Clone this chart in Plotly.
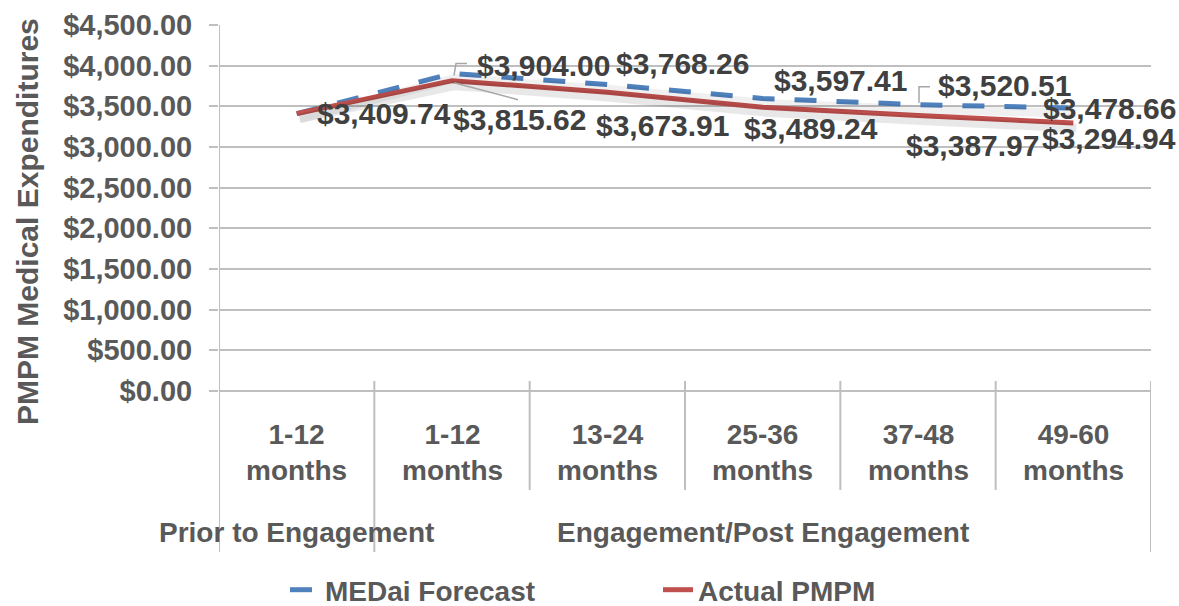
import plotly.graph_objects as go

# ---- data ----
periods = ["1-12<br>months", "1-12<br>months", "13-24<br>months",
           "25-36<br>months", "37-48<br>months", "49-60<br>months"]
groups = ["Prior to Engagement", "Engagement/Post Engagement"]
group_sizes = [1, 5]
forecast = [3409.74, 3904.00, 3768.26, 3597.41, 3520.51, 3478.66]
actual = [3409.74, 3815.62, 3673.91, 3489.24, 3387.97, 3294.94]
series_names = ["MEDai Forecast", "Actual PMPM"]

# ---- styling / layout constants ----
W, H = 1179, 606
ML, MR, MT, MB = 219, 28, 25, 215
PW, PH = W - ML - MR, H - MT - MB
YMAX = 4500
BLUE = "#4F81BD"
RED = "#C0504D"
GRID = "#BFBFBF"
AXTXT = "#595959"
LBL = "#404040"
FONT = "Liberation Sans, Arial, sans-serif"

xs = list(range(len(periods)))

def py2paper(py):
    return (MT + PH - py) / PH

fig = go.Figure()

# soft shadows (Excel style), drawn on shifted overlay axes
for vals, col in [(forecast, "rgba(0,0,0,0.06)"), (actual, "rgba(0,0,0,0.09)")]:
    fig.add_trace(go.Scatter(x=xs, y=vals, mode="lines", xaxis="x2", yaxis="y2",
                             line=dict(color=col, width=9), showlegend=False,
                             hoverinfo="skip"))

fig.add_trace(go.Scatter(x=xs, y=forecast, mode="lines", name=series_names[0],
                         line=dict(color=BLUE, width=5, dash="22px,20px")))
fig.add_trace(go.Scatter(x=xs, y=actual, mode="lines", name=series_names[1],
                         line=dict(color=RED, width=5)))

# ---- data labels (pixel offsets from each point) ----
f_off = [None, (91, 8), (75, 21), (78, 18), (86, 19), (36, 0)]
a_off = [(87, 0), (67, -39), (55, -33), (48, -21), (54, -30), (36, -15)]
for i, v in enumerate(forecast):
    if f_off[i] is None:
        continue
    fig.add_annotation(x=i, y=v, xref="x", yref="y", text=f"${v:,.2f}",
                       showarrow=False, xshift=f_off[i][0], yshift=f_off[i][1],
                       font=dict(family=FONT, size=30, color=LBL, weight="bold"))
for i, v in enumerate(actual):
    fig.add_annotation(x=i, y=v, xref="x", yref="y", text=f"${v:,.2f}",
                       showarrow=False, xshift=a_off[i][0], yshift=a_off[i][1],
                       font=dict(family=FONT, size=30, color=LBL, weight="bold"))

# leader lines
leaders = [(1, forecast[1], "M 2,-2 L 4,10 L 15,10"),
           (1, actual[1], "M 2,-2 L 66,-19"),
           (4, forecast[4], "M 1,2 L 1,18 L 12,18")]
for xi, yv, path in leaders:
    fig.add_shape(type="path", xref="x", yref="y", xsizemode="pixel", ysizemode="pixel",
                  xanchor=xi, yanchor=yv, path=path,
                  line=dict(color="#A6A6A6", width=1.5))

# ---- category axis drawn Excel-style ----
fig.add_shape(type="line", xref="x", yref="paper", x0=-0.5, x1=-0.5,
              y0=1, y1=py2paper(552), line=dict(color=GRID, width=2))
bounds = [-0.5]
for s in group_sizes:
    bounds.append(bounds[-1] + s)
for k in range(1, len(periods) + 1):
    b = k - 0.5
    bottom = 552 if b in bounds else 490
    fig.add_shape(type="line", xref="x", yref="paper", x0=b, x1=b,
                  y0=py2paper(381), y1=py2paper(bottom), line=dict(color=GRID, width=2))

for i, p in enumerate(periods):
    fig.add_annotation(x=i, y=py2paper(452), xref="x", yref="paper", text=p,
                       showarrow=False, xanchor="center", yanchor="middle",
                       font=dict(family=FONT, size=28, color=AXTXT, weight="bold"))
for g, (lo, hi) in zip(groups, zip(bounds[:-1], bounds[1:])):
    fig.add_annotation(x=(lo + hi) / 2, y=py2paper(532), xref="x", yref="paper", text=g,
                       showarrow=False, xanchor="center", yanchor="middle",
                       font=dict(family=FONT, size=28, color=AXTXT, weight="bold"))

fig.add_annotation(x=(27 - ML) / PW, y=py2paper(222), xref="paper", yref="paper",
                   text="PMPM Medical Expenditures", textangle=-90, showarrow=False,
                   xanchor="center", yanchor="middle",
                   font=dict(family=FONT, size=30, color=AXTXT, weight="bold"))

shadow_dx = 3 / (PW / len(periods))
shadow_dy = 5 * YMAX / PH
fig.update_layout(
    width=W, height=H,
    margin=dict(l=ML, r=MR, t=MT, b=MB, autoexpand=False),
    paper_bgcolor="white", plot_bgcolor="white",
    font=dict(family=FONT, size=28, color=AXTXT, weight="bold"),
    xaxis=dict(range=[-0.5, len(periods) - 0.5], showgrid=False, zeroline=False,
               showticklabels=False, showline=False, fixedrange=True),
    xaxis2=dict(range=[-0.5 - shadow_dx, len(periods) - 0.5 - shadow_dx], overlaying="x",
                visible=False),
    yaxis=dict(range=[0, YMAX], dtick=500, tickformat="$,.2f", showgrid=True,
               gridcolor=GRID, gridwidth=2, zeroline=True, zerolinecolor=GRID,
               zerolinewidth=2, ticks="outside", ticklen=9, tickcolor=GRID, tickwidth=2,
               ticklabelstandoff=11, showline=False,
               tickfont=dict(family=FONT, size=29, color=AXTXT, weight="bold")),
    yaxis2=dict(range=[shadow_dy, YMAX + shadow_dy], overlaying="y", visible=False),
    legend=dict(orientation="h", xref="container", yref="container", x=285 / W,
                y=(H - 590) / H, xanchor="left", yanchor="middle", entrywidth=328,
                bgcolor="rgba(0,0,0,0)",
                font=dict(family=FONT, size=28, color=AXTXT, weight="bold")),
    showlegend=True,
)

fig.write_html("out.html", config={"displayModeBar": False},
               post_script="document.body.style.margin='0';document.body.style.overflow='hidden';")
